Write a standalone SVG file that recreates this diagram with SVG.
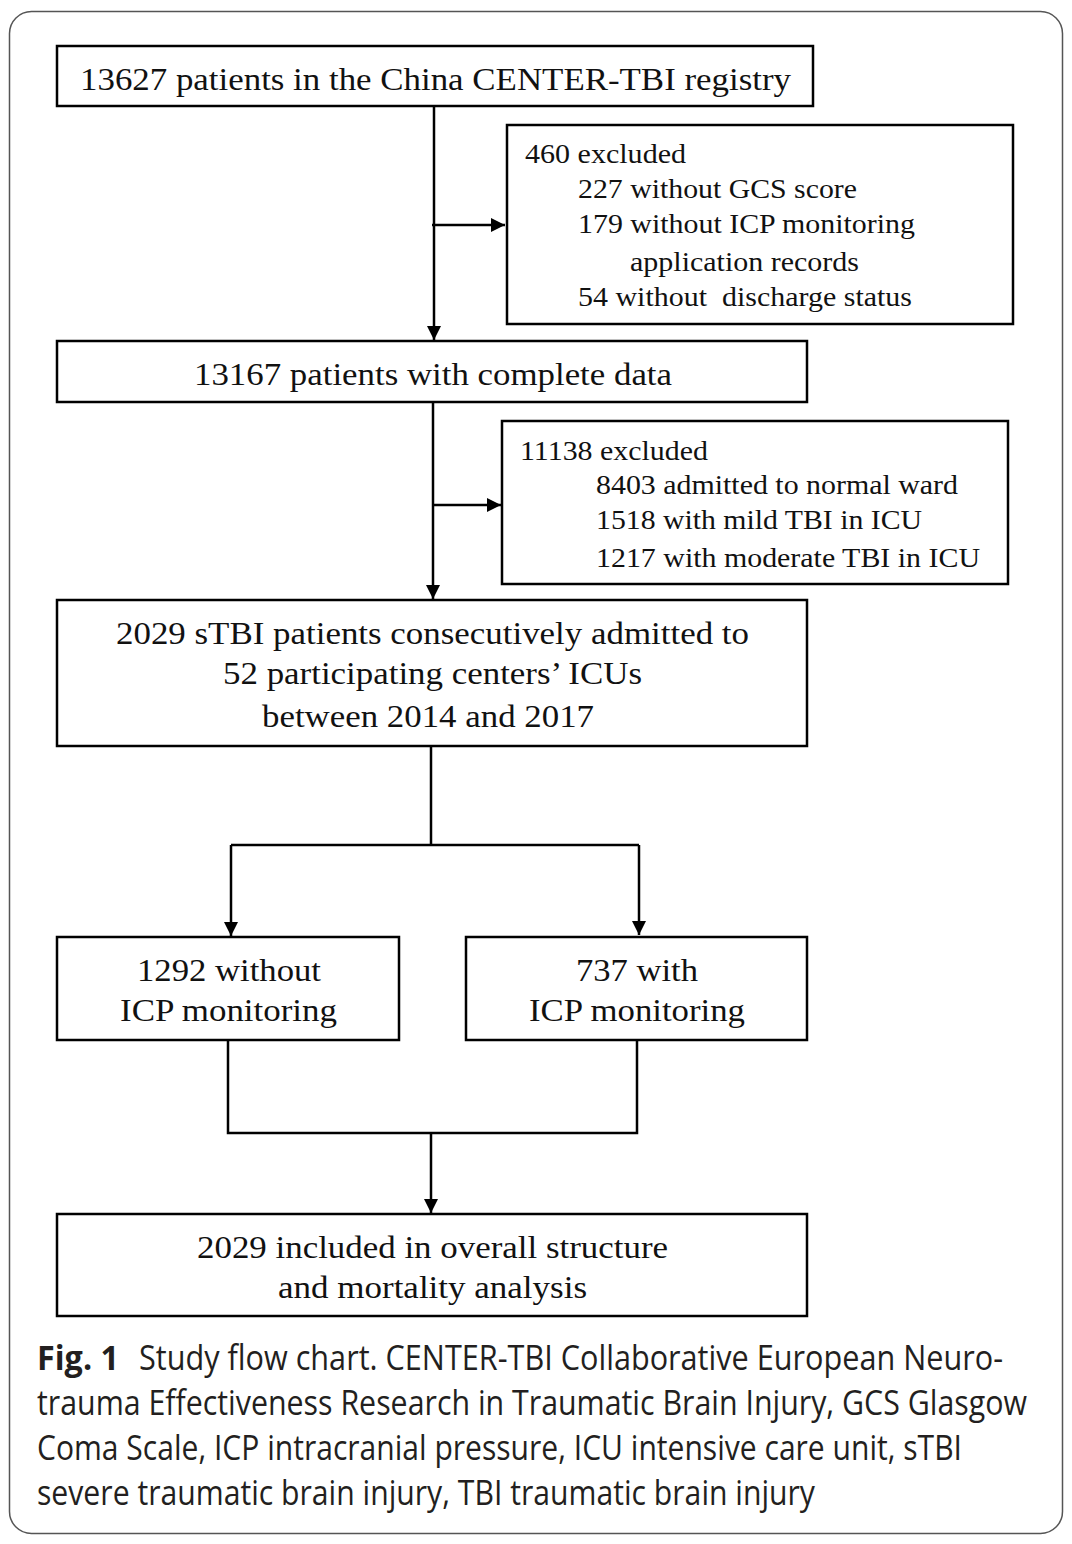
<svg xmlns="http://www.w3.org/2000/svg" width="1072" height="1544" viewBox="0 0 1072 1544">
<style>
.box{fill:#fff;stroke:#000;stroke-width:2.5}
.t{font-family:"Liberation Serif","Times New Roman",serif;fill:#111}
.big{font-size:32px}
.sm{font-size:27px}
.ln{fill:none;stroke:#000;stroke-width:2.5}
.cap{font-family:"Open Sans","Noto Sans","Liberation Sans",sans-serif;font-size:34px;fill:#231f20}
</style>
<defs>
<marker id="ah" viewBox="0 0 14 14" refX="14" refY="7" markerWidth="14" markerHeight="14" markerUnits="userSpaceOnUse" orient="auto">
<path d="M0,0 L14,7 L0,14 Z" fill="#000"/>
</marker>
</defs>
<rect x="9.5" y="11.5" width="1053" height="1522" rx="22" fill="#fff" stroke="#555" stroke-width="1.5"/>
<g id="connectors">
<line class="ln" x1="434" y1="106" x2="434" y2="340" marker-end="url(#ah)"/>
<line class="ln" x1="432" y1="225" x2="505" y2="225" marker-end="url(#ah)"/>
<line class="ln" x1="433" y1="402" x2="433" y2="599" marker-end="url(#ah)"/>
<line class="ln" x1="433" y1="505" x2="501" y2="505" marker-end="url(#ah)"/>
<polyline class="ln" points="431,746 431,845"/>
<polyline class="ln" points="231,845 639,845"/>
<line class="ln" x1="231" y1="845" x2="231" y2="936" marker-end="url(#ah)"/>
<line class="ln" x1="639" y1="845" x2="639" y2="935" marker-end="url(#ah)"/>
<polyline class="ln" points="228,1040 228,1133 637,1133 637,1040"/>
<line class="ln" x1="431" y1="1133" x2="431" y2="1213" marker-end="url(#ah)"/>
</g>
<g id="n1">
<rect class="box" x="57" y="46" width="756" height="60"/>
<text class="t big" x="80" y="90" textLength="711" lengthAdjust="spacingAndGlyphs">13627 patients in the China CENTER-TBI registry</text>
</g>
<g id="n2">
<rect class="box" x="507" y="125" width="506" height="199"/>
<text class="t sm" x="525" y="163" textLength="161" lengthAdjust="spacingAndGlyphs">460 excluded</text>
<text class="t sm" x="578" y="198" textLength="279" lengthAdjust="spacingAndGlyphs">227 without GCS score</text>
<text class="t sm" x="578" y="233" textLength="337" lengthAdjust="spacingAndGlyphs">179 without ICP monitoring</text>
<text class="t sm" x="630" y="271" textLength="229" lengthAdjust="spacingAndGlyphs">application records</text>
<text class="t sm" x="578" y="306" textLength="334" lengthAdjust="spacingAndGlyphs" xml:space="preserve">54 without  discharge status</text>
</g>
<g id="n3">
<rect class="box" x="57" y="341" width="750" height="61"/>
<text class="t big" x="194" y="385" textLength="478" lengthAdjust="spacingAndGlyphs">13167 patients with complete data</text>
</g>
<g id="n4">
<rect class="box" x="502" y="421" width="506" height="163"/>
<text class="t sm" x="520" y="460" textLength="188" lengthAdjust="spacingAndGlyphs">11138 excluded</text>
<text class="t sm" x="596" y="494" textLength="362" lengthAdjust="spacingAndGlyphs">8403 admitted to normal ward</text>
<text class="t sm" x="596" y="529" textLength="326" lengthAdjust="spacingAndGlyphs">1518 with mild TBI in ICU</text>
<text class="t sm" x="596" y="567" textLength="384" lengthAdjust="spacingAndGlyphs">1217 with moderate TBI in ICU</text>
</g>
<g id="n5">
<rect class="box" x="57" y="600" width="750" height="146"/>
<text class="t big" x="116" y="644" textLength="633" lengthAdjust="spacingAndGlyphs">2029 sTBI patients consecutively admitted to</text>
<text class="t big" x="223" y="684" textLength="419" lengthAdjust="spacingAndGlyphs">52 participating centers’ ICUs</text>
<text class="t big" x="262" y="727" textLength="332" lengthAdjust="spacingAndGlyphs">between 2014 and 2017</text>
</g>
<g id="n6">
<rect class="box" x="57" y="937" width="342" height="103"/>
<text class="t big" x="137" y="981" textLength="184" lengthAdjust="spacingAndGlyphs">1292 without</text>
<text class="t big" x="120" y="1021" textLength="217" lengthAdjust="spacingAndGlyphs">ICP monitoring</text>
</g>
<g id="n7">
<rect class="box" x="466" y="937" width="341" height="103"/>
<text class="t big" x="576" y="981" textLength="122" lengthAdjust="spacingAndGlyphs">737 with</text>
<text class="t big" x="529" y="1021" textLength="216" lengthAdjust="spacingAndGlyphs">ICP monitoring</text>
</g>
<g id="n8">
<rect class="box" x="57" y="1214" width="750" height="102"/>
<text class="t big" x="197" y="1258" textLength="471" lengthAdjust="spacingAndGlyphs">2029 included in overall structure</text>
<text class="t big" x="278" y="1298" textLength="309" lengthAdjust="spacingAndGlyphs">and mortality analysis</text>
</g>
<g id="caption" transform="scale(0.8,1)">
<text class="cap" x="46.25" y="1370" font-weight="bold" textLength="102.5" lengthAdjust="spacingAndGlyphs">Fig. 1</text>
<text class="cap" x="173.75" y="1370" textLength="1080" lengthAdjust="spacingAndGlyphs">Study flow chart. CENTER-TBI Collaborative European Neuro-</text>
<text class="cap" x="46.25" y="1415" textLength="1237.5" lengthAdjust="spacingAndGlyphs">trauma Effectiveness Research in Traumatic Brain Injury, GCS Glasgow</text>
<text class="cap" x="46.25" y="1460" textLength="1156.25" lengthAdjust="spacingAndGlyphs">Coma Scale, ICP intracranial pressure, ICU intensive care unit, sTBI</text>
<text class="cap" x="46.25" y="1505" textLength="972.5" lengthAdjust="spacingAndGlyphs">severe traumatic brain injury, TBI traumatic brain injury</text>
</g>
</svg>
